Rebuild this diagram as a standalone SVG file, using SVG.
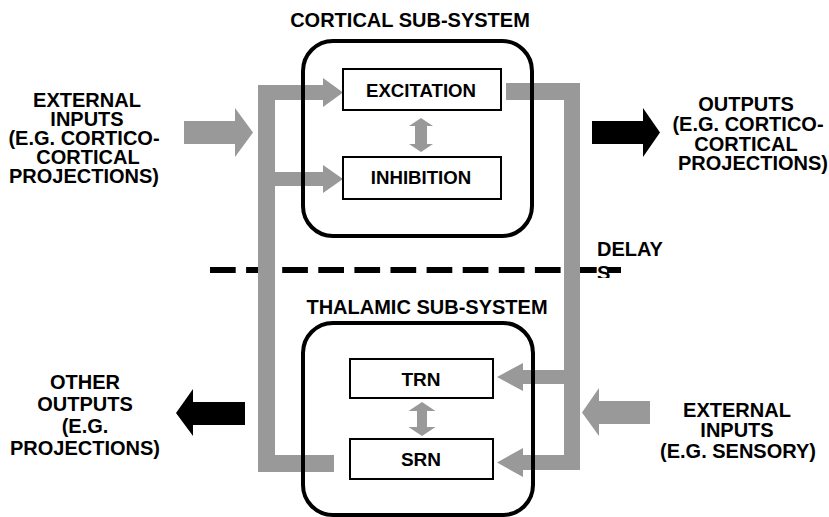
<svg xmlns="http://www.w3.org/2000/svg" width="829" height="517" viewBox="0 0 829 517">
  <style>
    text { font-family: "Liberation Sans", Arial, sans-serif; font-weight: bold; font-size: 19px; fill: #000; }
    .mid { text-anchor: middle; }
    .lbl { font-size: 20px; }
    .sys { fill: none; stroke: #000; stroke-width: 4; }
    .unit { fill: #fff; stroke: #000; stroke-width: 2; }
    .path { fill: #999; stroke: none; }
    .ext { fill: #999; }
    .out { fill: #000; }
    .split { fill: none; stroke: #000; stroke-width: 6; stroke-dasharray: 25.7 10.4; }
  </style>
  <defs>
    <clipPath id="delay-clip">
      <rect x="590" y="258" width="40" height="20"/>
    </clipPath>
  </defs>

  <rect width="829" height="517" fill="#fff"/>

  <!-- cortex / thalamus divide with delay -->
  <g id="divide">
    <line class="split" x1="210" y1="270" x2="621" y2="270"/>
    <text class="lbl" x="597" y="256">DELAY</text>
    <text class="lbl" x="597" y="280" clip-path="url(#delay-clip)">S</text>
  </g>

  <!-- loop pathways -->
  <g id="connectors">
    <!-- left loop: SRN back up to excitation and inhibition -->
    <rect class="path" x="258" y="85" width="17" height="387"/>
    <polygon class="path" points="275,85 323,85 323,78 343,92.5 323,107 323,100 275,100"/>
    <polygon class="path" points="275,172 323,172 323,165 343,179 323,193 323,186 275,186"/>
    <rect class="path" x="275" y="455" width="59" height="17"/>
    <!-- right loop: excitation down to TRN and SRN -->
    <rect class="path" x="506" y="83" width="74" height="17"/>
    <rect class="path" x="564" y="83" width="16" height="387"/>
    <polygon class="path" points="564,370 523,370 523,363 497,377 523,391 523,384 564,384"/>
    <polygon class="path" points="564,455 523,455 523,448 497,462.5 523,477 523,470 564,470"/>
    <!-- reciprocal links -->
    <polygon class="path" points="421,118 433,126 427,126 427,144 433,144 421,152 409,144 415,144 415,126 409,126"/>
    <polygon class="path" points="422,402 435.5,411 427,411 427,427 435.5,427 422,436 408.5,427 417,427 417,411 408.5,411"/>
    <!-- external inputs and outputs -->
    <polygon class="ext" points="184,121 235,121 235,108 253,132.5 235,157 235,144 184,144"/>
    <polygon class="out" points="592,121 643,121 643,108 660,132.5 643,157 643,144 592,144"/>
    <polygon class="ext" points="650,401 599,401 599,388 582,412.5 599,436 599,424 650,424"/>
    <polygon class="out" points="245,402 193,402 193,389 176,413 193,436 193,425 245,425"/>
  </g>

  <!-- cortical sub-system -->
  <g id="cortical">
    <rect class="sys" x="303" y="41" width="229" height="195" rx="30"/>
    <text class="mid lbl" x="410" y="27">CORTICAL SUB-SYSTEM</text>
  </g>
  <g id="excitation">
    <rect class="unit" x="343" y="69" width="158" height="41"/>
    <g transform="translate(421,0) scale(0.98,1)"><text class="mid" x="0" y="97">EXCITATION</text></g>
  </g>
  <g id="inhibition">
    <rect class="unit" x="343" y="157" width="158" height="42"/>
    <g transform="translate(421,0) scale(0.98,1)"><text class="mid" x="0" y="184">INHIBITION</text></g>
  </g>

  <!-- thalamic sub-system -->
  <g id="thalamic">
    <rect class="sys" x="303" y="323" width="230" height="192" rx="30"/>
    <text class="mid lbl" x="427" y="314">THALAMIC SUB-SYSTEM</text>
  </g>
  <g id="trn">
    <rect class="unit" x="350" y="359" width="143" height="39"/>
    <text class="mid" x="421" y="386">TRN</text>
  </g>
  <g id="srn">
    <rect class="unit" x="350" y="439" width="143" height="40"/>
    <text class="mid" x="421" y="466">SRN</text>
  </g>

  <!-- labels -->
  <g id="cortical-inputs">
    <text class="mid lbl" x="87" y="107">EXTERNAL</text>
    <text class="mid lbl" x="87" y="126">INPUTS</text>
    <text class="mid lbl" x="84" y="145">(E.G. CORTICO-</text>
    <text class="mid lbl" x="88" y="164">CORTICAL</text>
    <text class="mid lbl" x="84" y="183">PROJECTIONS)</text>
  </g>
  <g id="cortical-outputs">
    <text class="mid lbl" x="746" y="111">OUTPUTS</text>
    <text class="mid lbl" x="748" y="131">(E.G. CORTICO-</text>
    <text class="mid lbl" x="746" y="151">CORTICAL</text>
    <text class="mid lbl" x="753" y="170">PROJECTIONS)</text>
  </g>
  <g id="other-outputs">
    <text class="mid lbl" x="85" y="389">OTHER</text>
    <text class="mid lbl" x="85" y="411">OUTPUTS</text>
    <text class="mid lbl" x="85" y="433">(E.G.</text>
    <text class="mid lbl" x="85" y="455">PROJECTIONS)</text>
  </g>
  <g id="sensory-inputs">
    <text class="mid lbl" x="737" y="417">EXTERNAL</text>
    <text class="mid lbl" x="737" y="437">INPUTS</text>
    <text class="mid lbl" x="738" y="458">(E.G. SENSORY)</text>
  </g>
</svg>
